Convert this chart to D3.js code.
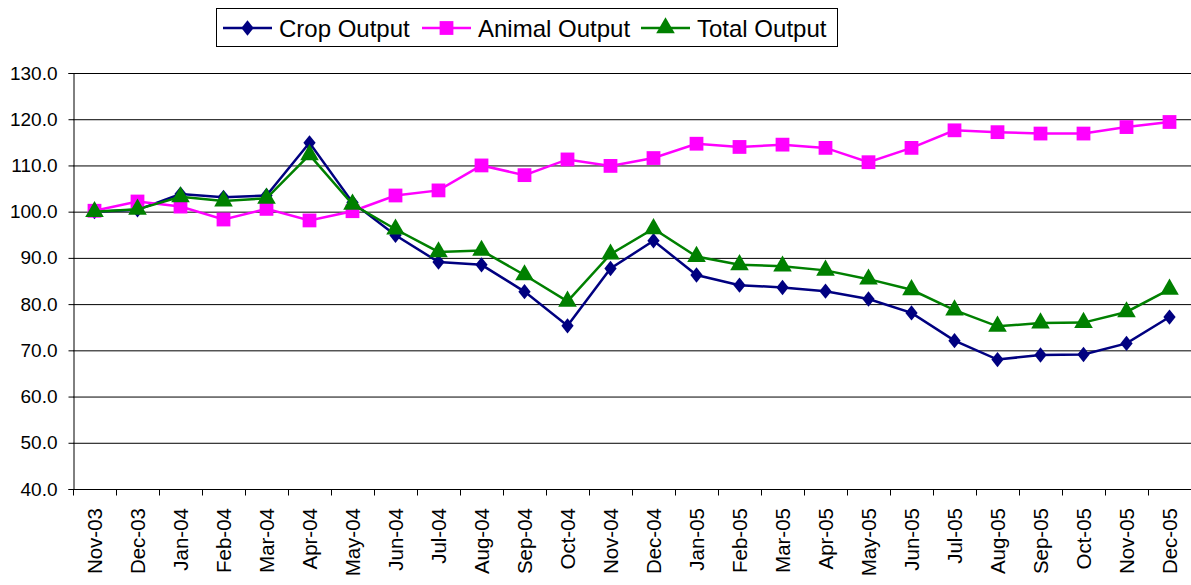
<!DOCTYPE html>
<html>
<head>
<meta charset="utf-8">
<script src="https://cdn.jsdelivr.net/npm/d3@7"></script>
<style>
  body { margin: 0; background: #fff; }
  svg { display: block; font-family: "Liberation Sans", Arial, sans-serif; }
</style>
</head>
<body>
<svg id="chart"></svg>
<script>
const months = ["Nov-03","Dec-03","Jan-04","Feb-04","Mar-04","Apr-04","May-04","Jun-04","Jul-04","Aug-04","Sep-04","Oct-04","Nov-04","Dec-04","Jan-05","Feb-05","Mar-05","Apr-05","May-05","Jun-05","Jul-05","Aug-05","Sep-05","Oct-05","Nov-05","Dec-05"];
const cropOutput = [100.0, 100.4, 103.8, 103.1, 103.5, 114.9, 102.0, 94.9, 89.1, 88.5, 82.7, 75.3, 87.7, 93.7, 86.3, 84.1, 83.6, 82.8, 81.1, 78.1, 72.1, 68.0, 69.0, 69.1, 71.5, 77.2];
const animalOutput = [100.2, 102.2, 101.1, 98.3, 100.6, 98.1, 100.1, 103.5, 104.6, 110.0, 107.9, 111.3, 109.9, 111.6, 114.7, 114.0, 114.5, 113.8, 110.7, 113.8, 117.6, 117.2, 116.9, 116.9, 118.3, 119.4];
const totalOutput = [100.0, 100.5, 103.2, 102.3, 102.9, 112.3, 101.6, 96.2, 91.3, 91.6, 86.3, 80.6, 90.8, 96.3, 90.3, 88.5, 88.2, 87.3, 85.4, 83.1, 78.7, 75.2, 75.9, 76.0, 78.3, 83.2];
const yTicks = [40, 50, 60, 70, 80, 90, 100, 110, 120, 130];

const series = [
  {name: "Crop Output", values: cropOutput, color: "#000080", marker: "diamond"},
  {name: "Animal Output", values: animalOutput, color: "#FF00FF", marker: "square"},
  {name: "Total Output", values: totalOutput, color: "#008000", marker: "triangle"},
];

const W = 1191, H = 585;
const margin = {top: 73, right: 0, bottom: 96, left: 73};
const width = W - margin.left - margin.right;
const height = H - margin.top - margin.bottom;

const svg = d3.select("#chart").attr("width", W).attr("height", H);
const g = svg.append("g").attr("transform", "translate(" + margin.left + "," + margin.top + ")");

const x = d3.scaleBand().domain(months).range([0, width]);
const y = d3.scaleLinear().domain([40, 130]).range([height, 0]);

// gridlines
g.append("g")
  .selectAll("line")
  .data(yTicks.filter(d => d > 40))
  .enter().append("line")
  .attr("x1", 0).attr("x2", width)
  .attr("y1", d => y(d) + 0.5).attr("y2", d => y(d) + 0.5)
  .attr("stroke", "#000").attr("stroke-width", 1);

// y axis
const yAxis = g.append("g")
  .attr("transform", "translate(0.5,0)")
  .call(d3.axisLeft(y).tickValues(yTicks).tickFormat(d3.format(".1f")).tickSize(5).tickPadding(11));
yAxis.selectAll("text").attr("font-size", "19px").attr("fill", "#000").attr("font-family", "Liberation Sans, Arial, sans-serif");
yAxis.select(".domain").attr("stroke", "#000");

// x axis with ticks at category boundaries
const xAxisG = g.append("g").attr("transform", "translate(0," + (height + 0.5) + ")");
xAxisG.append("line").attr("x1", 0).attr("x2", width).attr("stroke", "#000");
xAxisG.selectAll("line.tk")
  .data(months)
  .enter().append("line").attr("class", "tk")
  .attr("x1", d => Math.round(x(d)) + 0.5).attr("x2", d => Math.round(x(d)) + 0.5)
  .attr("y1", 0).attr("y2", 6).attr("stroke", "#000");
xAxisG.selectAll("text")
  .data(months)
  .enter().append("text")
  .attr("transform", d => "translate(" + (x(d) + x.bandwidth() / 2 + 7.5) + ",18.5) rotate(-90)")
  .attr("text-anchor", "end")
  .attr("font-size", "20.5px")
  .attr("fill", "#000")
  .text(d => d);

const line = d3.line()
  .x((d, i) => x(months[i]) + x.bandwidth() / 2)
  .y(d => y(d));

const symbolFor = {
  diamond: d3.symbol().type(d3.symbolDiamond2).size(150),
  square: d3.symbol().type(d3.symbolSquare).size(190),
  triangle: d3.symbol().type(d3.symbolTriangle).size(150),
};

series.forEach(s => {
  g.append("path")
    .datum(s.values)
    .attr("d", line)
    .attr("fill", "none")
    .attr("stroke", s.color)
    .attr("stroke-width", 2.5);
  g.append("g").selectAll("path")
    .data(s.values)
    .enter().append("path")
    .attr("d", symbolFor[s.marker])
    .attr("transform", (d, i) => "translate(" + (x(months[i]) + x.bandwidth() / 2) + "," + y(d) + ")" + (s.marker === "diamond" ? " scale(0.8,1)" : ""))
    .attr("fill", s.color);
});

// legend
const legend = svg.append("g");
legend.append("rect")
  .attr("x", 216.5).attr("y", 8.5).attr("width", 621).attr("height", 38)
  .attr("fill", "#fff").attr("stroke", "#000").attr("stroke-width", 1);
const legendX = [223, 422, 641];
series.forEach((s, i) => {
  const lx = legendX[i];
  legend.append("line")
    .attr("x1", lx).attr("x2", lx + 49).attr("y1", 28).attr("y2", 28)
    .attr("stroke", s.color).attr("stroke-width", 2.5);
  legend.append("path")
    .attr("d", symbolFor[s.marker])
    .attr("transform", "translate(" + (lx + 24.5) + ",28)" + (s.marker === "diamond" ? " scale(0.8,1)" : ""))
    .attr("fill", s.color);
  legend.append("text")
    .attr("x", lx + 56).attr("y", 36.5)
    .attr("font-size", "24px")
    .attr("fill", "#000")
    .text(s.name);
});
</script>
</body>
</html>
